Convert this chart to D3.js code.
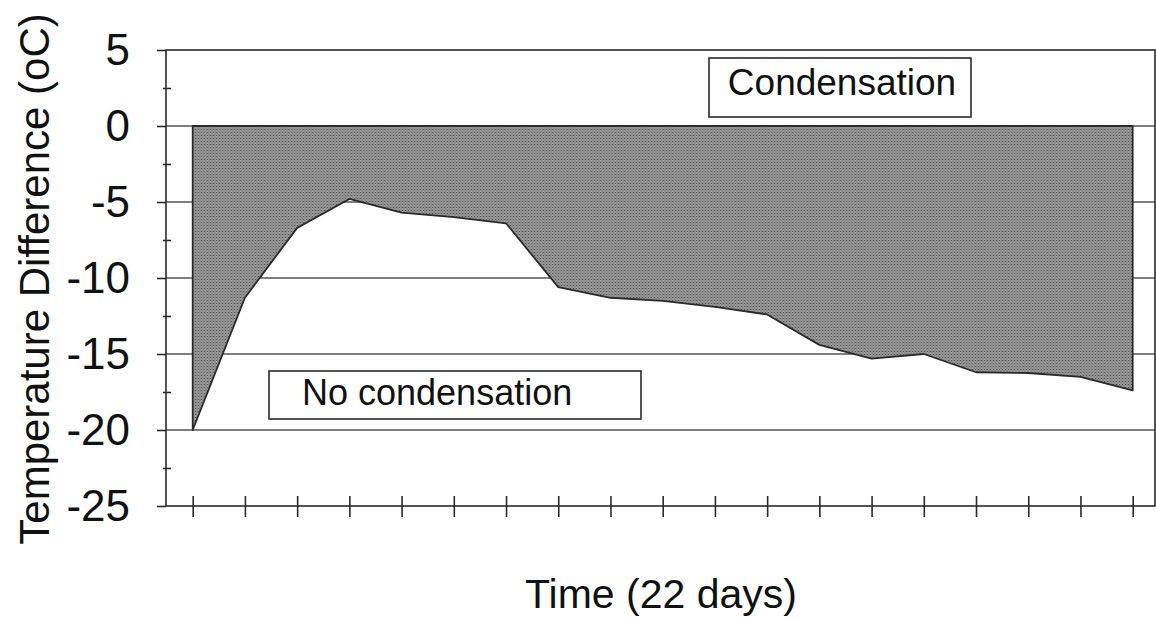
<!DOCTYPE html>
<html>
<head>
<meta charset="utf-8">
<script src="https://cdn.jsdelivr.net/npm/d3@7"></script>
<style>
  html, body { margin: 0; padding: 0; background: #fff; }
  svg { display: block; font-family: "Liberation Sans", Arial, sans-serif; }
</style>
</head>
<body>
<svg id="chart" width="1156" height="620"></svg>
<script>
// day index along the x axis (one tick per reading)
const days = [1, 2, 3, 4, 5, 6, 7, 8, 9, 10, 11, 12, 13, 14, 15, 16, 17, 18, 19];
// temperature difference (oC)
const tempDiff = [-20, -11.3, -6.7, -4.8, -5.7, -6.0, -6.4, -10.6, -11.3, -11.5,
                  -11.9, -12.4, -14.4, -15.3, -15.0, -16.2, -16.25, -16.5, -17.4];
const yTicks = [5, 0, -5, -10, -15, -20, -25];
const yMinor = [2.5, -2.5, -7.5, -12.5, -17.5, -22.5];
const gridVals = [0, -5, -10, -15, -20];

const data = days.map((d, i) => ({ day: d, value: tempDiff[i] }));

const svg = d3.select("#chart");
const box = { left: 166, right: 1155, top: 50, bottom: 506 };

const x = d3.scaleLinear().domain([1, 19]).range([192.7, 1132.7]);
const y = d3.scaleLinear().domain([-25, 5]).range([box.bottom, box.top]);

const ink = "#2a2a2a";

// stippled grey fill like the printed original
const defs = svg.append("defs");
const pat = defs.append("pattern").attr("id", "stipple")
    .attr("patternUnits", "userSpaceOnUse").attr("width", 3).attr("height", 3);
pat.append("rect").attr("width", 3).attr("height", 3).attr("fill", "#9c9c9c");
pat.append("rect").attr("x", 0).attr("y", 0).attr("width", 1).attr("height", 1).attr("fill", "#555");
pat.append("rect").attr("x", 1.5).attr("y", 1.5).attr("width", 1).attr("height", 1).attr("fill", "#616161");
pat.append("rect").attr("x", 1.5).attr("y", 0).attr("width", 1).attr("height", 1).attr("fill", "#7e7e7e");

// gridlines
svg.append("g").selectAll("line").data(gridVals).enter().append("line")
    .attr("x1", box.left).attr("x2", box.right)
    .attr("y1", d => y(d)).attr("y2", d => y(d))
    .attr("stroke", "#555").attr("stroke-width", 1.5);

// shaded condensation-free margin: between 0 and the measured curve
const area = d3.area()
    .x(d => x(d.day))
    .y0(y(0))
    .y1(d => y(d.value));

svg.append("path").datum(data)
    .attr("d", area)
    .attr("fill", "url(#stipple)")
    .attr("stroke", ink).attr("stroke-width", 1.8)
    .attr("stroke-linejoin", "round");

// plot frame
svg.append("rect")
    .attr("x", box.left).attr("y", box.top)
    .attr("width", box.right - box.left).attr("height", box.bottom - box.top)
    .attr("fill", "none").attr("stroke", ink).attr("stroke-width", 1.6);

// y axis, major ticks + labels (plain hyphen minus like the original)
svg.append("g").attr("transform", `translate(${box.left},0)`)
    .call(d3.axisLeft(y).tickValues(yTicks).tickSize(9).tickPadding(27).tickFormat(d => String(d)))
    .call(g => g.select(".domain").remove())
    .call(g => g.selectAll("line").attr("stroke", ink).attr("stroke-width", 1.6))
    .call(g => g.selectAll("text").attr("fill", "#111").attr("font-size", 44)
        .attr("font-family", "Liberation Sans, Arial, sans-serif"));

// y axis, minor ticks crossing the axis line
svg.append("g").attr("transform", `translate(${box.left + 5},0)`)
    .call(d3.axisLeft(y).tickValues(yMinor).tickSize(8).tickFormat(""))
    .call(g => g.select(".domain").remove())
    .call(g => g.selectAll("line").attr("stroke", ink).attr("stroke-width", 1.6));

// x axis ticks crossing the bottom line, no labels
svg.append("g").attr("transform", `translate(0,${box.bottom + 11})`)
    .call(d3.axisTop(x).tickValues(days).tickSize(21).tickFormat(""))
    .call(g => g.select(".domain").remove())
    .call(g => g.selectAll("line").attr("stroke", ink).attr("stroke-width", 1.6));

// annotation boxes
function labelBox(x0, y0, w, h, tx, ty, anchor, size, txt) {
    svg.append("rect").attr("x", x0).attr("y", y0).attr("width", w).attr("height", h)
        .attr("fill", "#fff").attr("stroke", ink).attr("stroke-width", 1.6);
    svg.append("text").attr("x", tx).attr("y", ty)
        .attr("text-anchor", anchor).attr("font-size", size).attr("fill", "#111")
        .text(txt);
}
labelBox(709, 58, 262, 59, 842, 95, "middle", 37, "Condensation");
labelBox(269, 371, 372, 48, 302, 405, "start", 36, "No condensation");

// axis titles
svg.append("text")
    .attr("transform", "translate(49,279) rotate(-90)")
    .attr("text-anchor", "middle").attr("font-size", 42).attr("fill", "#111")
    .text("Temperature Difference (oC)");
svg.append("text")
    .attr("x", 661).attr("y", 608)
    .attr("text-anchor", "middle").attr("font-size", 41).attr("fill", "#111")
    .text("Time (22 days)");
</script>
</body>
</html>
